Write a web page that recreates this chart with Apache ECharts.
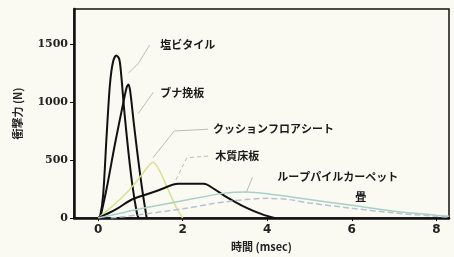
<!DOCTYPE html>
<html>
<head>
<meta charset="utf-8">
<script src="https://cdn.jsdelivr.net/npm/echarts@6/dist/echarts.min.js"></script>
<style>
  html, body { margin: 0; padding: 0; background: #fafaf3; }
  #chart { width: 454px; height: 257px; }
</style>
</head>
<body>
<div id="chart"></div>
<script>
// 各床材の衝撃力 [時間(msec), 力(N)]
var enbiTile = [[0, 0], [0.05, 20], [0.12, 200], [0.2, 700], [0.28, 1150], [0.35, 1340], [0.43, 1400], [0.5, 1370], [0.55, 1220], [0.62, 920], [0.72, 560], [0.82, 260], [0.92, 40], [0.96, 0]];
var bunaHikiita = [[0.05, 0], [0.2, 250], [0.4, 640], [0.6, 1000], [0.68, 1130], [0.72, 1150], [0.76, 1090], [0.85, 800], [0.95, 500], [1.05, 230], [1.15, 0]];
var cushionFloor = [[0, 0], [0.3, 90], [0.6, 190], [0.9, 310], [1.15, 430], [1.3, 480], [1.45, 410], [1.65, 250], [1.85, 90], [2.0, 0]];
var mokushitsuYuka = [[0, 0], [0.4, 70], [0.8, 160], [1.4, 235], [1.9, 295], [2.5, 295], [2.75, 250], [3.0, 190], [3.5, 90], [3.9, 30], [4.2, 0]];
var loopPile = [[0, 0], [0.5, 40], [1, 80], [2, 150], [3, 215], [3.5, 225], [4, 210], [5, 160], [6, 110], [7, 60], [8, 25], [8.3, 15]];
var tatami = [[0.3, 0], [1, 30], [2, 80], [3, 140], [4, 170], [4.5, 160], [5, 130], [6, 85], [7, 45], [8, 15], [8.3, 8]];

var names = ['塩ビタイル', 'ブナ挽板', 'クッションフロアシート', '木質床板', 'ループパイルカーペット', '畳'];
var xTicks = [0, 2, 4, 6, 8];
var yTicks = [0, 500, 1000, 1500];

var mychart = echarts.init(document.getElementById('chart'));

// ラベル位置(データ座標)
var labelAt = [[1.47, 1491], [1.47, 1081], [2.72, 765], [2.77, 534], [4.24, 355], [6.08, 184]];
// 引出線
var leaders = [
  [[1.22, 1491], [0.95, 1330], [0.72, 1250]],
  [[1.3, 1081], [0.95, 900]],
  [[2.6, 765], [1.8, 750], [1.3, 520]],
  [[2.6, 534], [2.1, 520], [1.8, 300]],
  [[3.65, 350], [3.5, 215]],
  []
];

var colors = ['#111', '#111', '#d9e08f', '#111', '#a8d0c8', '#b3c3cf'];
var widths = [2, 2, 1.5, 2, 1.5, 1.5];
var datas = [enbiTile, bunaHikiita, cushionFloor, mokushitsuYuka, loopPile, tatami];

var series = [];
datas.forEach(function (d, i) {
  series.push({
    name: names[i],
    type: 'line',
    data: d,
    smooth: 0.3,
    symbol: 'none',
    lineStyle: { color: colors[i], width: widths[i], type: i == 5 ? [6, 3] : 'solid' },
    markPoint: {
      symbol: 'circle',
      symbolSize: 0,
      data: [{ coord: labelAt[i] }],
      label: {
        show: true,
        position: 'right',
        distance: 0,
        formatter: names[i],
        color: '#1a1a1a',
        fontSize: 11,
        fontWeight: 'bold',
        fontFamily: 'Noto Sans CJK JP'
      }
    },
    z: 3
  });
  if (leaders[i].length) {
    series.push({
      type: 'line',
      data: leaders[i],
      symbol: 'none',
      silent: true,
      lineStyle: { color: '#bcbcbc', width: 1, type: i == 3 ? [4, 3] : 'solid' },
      z: 2
    });
  }
});

var option = {
  backgroundColor: '#fafaf3',
  animation: false,
  grid: {
    left: 74,
    right: 5,
    top: 9,
    bottom: 37,
    show: true,
    borderColor: '#111',
    borderWidth: 1.5,
    backgroundColor: 'transparent'
  },
  xAxis: {
    type: 'value',
    min: -0.57,
    max: 8.3,
    name: '時間 (msec)',
    nameLocation: 'middle',
    nameGap: 21,
    nameTextStyle: { color: '#222', fontSize: 11, fontWeight: 'bold', fontFamily: 'Noto Sans CJK JP' },
    splitLine: { show: false },
    axisLine: { onZero: false, lineStyle: { color: '#111', width: 2.5 } },
    axisTick: { show: true, length: 3, customValues: xTicks, lineStyle: { color: '#111' } },
    axisLabel: {
      customValues: xTicks,
      color: '#222',
      fontSize: 12,
      fontWeight: 'bold',
      fontFamily: 'DejaVu Sans',
      margin: 6
    }
  },
  yAxis: {
    type: 'value',
    min: 0,
    max: 1800,
    name: '衝撃力 (N)',
    nameLocation: 'middle',
    nameGap: 51,
    nameTextStyle: { color: '#222', fontSize: 11, fontWeight: 'bold', fontFamily: 'Noto Sans CJK JP' },
    splitLine: { show: false },
    axisLine: { show: true, onZero: false, lineStyle: { color: '#111', width: 2.5 } },
    axisTick: { show: true, length: 4, customValues: yTicks, lineStyle: { color: '#111' } },
    axisLabel: {
      customValues: yTicks,
      formatter: function (v) { return String(v); },
      color: '#222',
      fontSize: 11,
      fontWeight: 'bold',
      fontFamily: 'DejaVu Serif',
      margin: 6
    }
  },
  series: series
};
mychart.setOption(option, true);
</script>
</body>
</html>
